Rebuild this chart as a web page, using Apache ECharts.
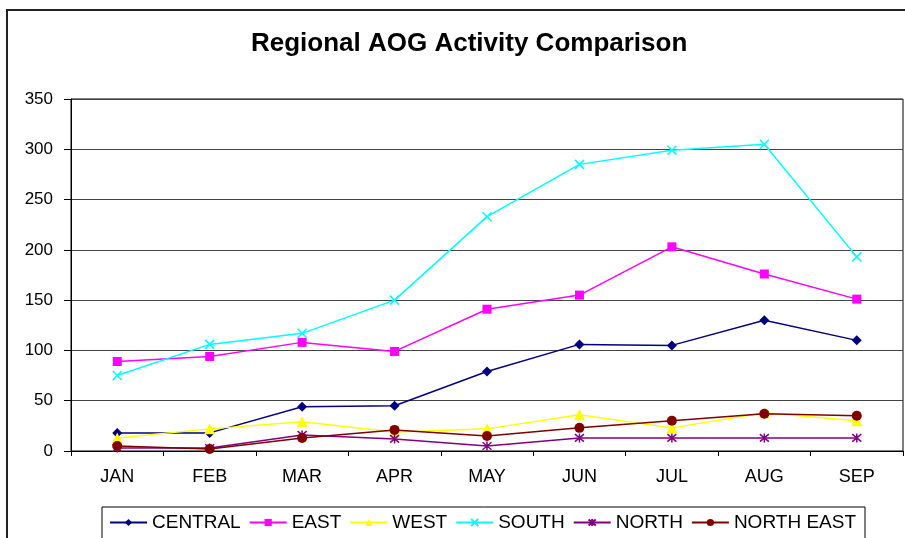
<!DOCTYPE html>
<html>
<head>
<meta charset="utf-8">
<script src="https://cdn.jsdelivr.net/npm/echarts@6/dist/echarts.min.js"></script>
<style>
  html, body { margin: 0; padding: 0; background: #fff; }
  #chart { width: 905px; height: 538px; }
</style>
</head>
<body>
<div id="chart"></div>
<script>
// values
const months = ['JAN', 'FEB', 'MAR', 'APR', 'MAY', 'JUN', 'JUL', 'AUG', 'SEP']
const central = [18, 18, 44, 45, 79, 106, 105, 130, 110]
const east = [89, 94, 108, 99, 141, 155, 203, 176, 151]
const west = [13, 22, 29, 19, 22, 36, 23, 38, 30]
const south = [75, 106, 117, 150, 233, 285, 299, 305, 193]
const north = [3, 3, 16, 12, 5, 13, 13, 13, 13]
const northEast = [5, 2, 13, 21, 15, 23, 30, 37, 35]

const crossPath = 'path://M0,0L10,10M10,0L0,10'
const starPath = 'path://M0,0L10,10M10,0L0,10M5,-1L5,11'

function makeSeries(name, data, color, symbol, size) {
  const stroked = symbol.startsWith('path://')
  return {
    name,
    type: 'line',
    data,
    symbol,
    symbolSize: size,
    showAllSymbol: true,
    lineStyle: { color, width: 1.5 },
    itemStyle: stroked
      ? { color: 'none', borderColor: color, borderWidth: 1.5 }
      : { color, borderColor: color, borderWidth: 0 },
    emphasis: { disabled: true }
  }
}

const chart = echarts.init(document.getElementById('chart'))

const option = {
  animation: false,
  backgroundColor: '#fff',
  textStyle: { fontFamily: 'Liberation Sans, Arial, sans-serif' },
  // outer chart frame (runs off the right and bottom of the picture)
  graphic: [{
    type: 'rect',
    shape: { x: 7, y: 10, width: 1000, height: 1000 },
    style: { fill: 'none', stroke: '#222', lineWidth: 2 },
    silent: true
  }],
  title: {
    text: 'Regional AOG Activity Comparison',
    left: 246,
    top: 26,
    textStyle: { fontSize: 26, fontWeight: 'bold', color: '#000', fontFamily: 'Liberation Sans, Arial, sans-serif' }
  },
  legend: {
    left: 102,
    top: 507,
    padding: [6, 9, 12, 7],
    borderColor: '#000',
    borderWidth: 1,
    itemWidth: 37,
    itemHeight: 9,
    itemGap: 8,
    textStyle: { fontSize: 19, color: '#000' },
    data: ['CENTRAL', 'EAST', 'WEST', 'SOUTH', 'NORTH', 'NORTH EAST']
  },
  grid: {
    left: 71, right: 2, top: 99, bottom: 87,
    show: true, borderColor: '#000', borderWidth: 1
  },
  xAxis: {
    type: 'category',
    data: months,
    boundaryGap: true,
    axisLine: { lineStyle: { color: '#000', width: 1 } },
    axisTick: { show: true, length: 5, lineStyle: { color: '#000' } },
    axisLabel: { color: '#000', fontSize: 18, margin: 17 },
    splitLine: { show: false }
  },
  yAxis: {
    type: 'value',
    min: 0,
    max: 350,
    interval: 50,
    axisLine: { show: true, lineStyle: { color: '#000', width: 1 } },
    axisTick: { show: true, length: 7, lineStyle: { color: '#000' } },
    axisLabel: { color: '#000', fontSize: 17, margin: 18 },
    splitLine: { show: true, lineStyle: { color: '#444', width: 1 } }
  },
  series: [
    makeSeries('CENTRAL', central, '#000080', 'diamond', 10),
    makeSeries('EAST', east, '#FF00FF', 'rect', 9),
    makeSeries('WEST', west, '#FFFF00', 'triangle', 11),
    makeSeries('SOUTH', south, '#00FFFF', crossPath, 9),
    makeSeries('NORTH', north, '#800080', starPath, 9),
    makeSeries('NORTH EAST', northEast, '#800000', 'circle', 10)
  ]
}

chart.setOption(option)
</script>
</body>
</html>
